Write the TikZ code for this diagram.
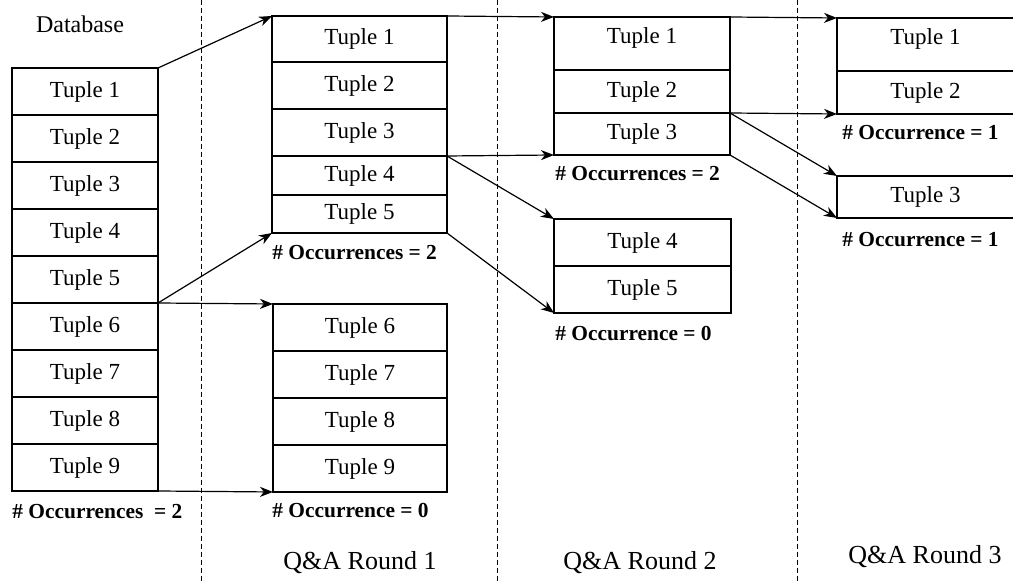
\documentclass[tikz,border=0pt]{standalone}
\usepackage{fontspec}
\setmainfont{Liberation Serif}
\usetikzlibrary{arrows.meta}

\tikzset{
  tuplebox/.style={draw, line width=0.65pt, anchor=north west, inner sep=0pt, outer sep=0pt,
    font=\fontsize{11.5}{12}\selectfont},
  highrow/.style={text height=8pt, text depth=8pt},
  occlabel/.style={anchor=west, inner sep=0pt, font=\fontsize{10.7}{12}\selectfont\bfseries},
  roundlabel/.style={inner sep=0pt, font=\fontsize{13}{14}\selectfont},
  link/.style={-{Stealth[length=6.5pt,width=5pt,inset=2pt]}, line width=0.6pt},
  sepline/.style={dash pattern=on 2.5pt off 1.5pt, line width=0.5pt}
}

\begin{document}
\begin{tikzpicture}[x=0.5pt,y=-0.5pt]
	\useasboundingbox (0,0) rectangle (1013,581);
	% round separators
	\foreach \x in {201,497,797}
		\draw[sepline] (\x,0) -- (\x,581);

	% database
	\node[roundlabel, font=\fontsize{12}{14}\selectfont] (dbname) at (80,24) {Database};
	\foreach \i in {1,...,9}
		\node[tuplebox, minimum width=73pt, minimum height=23.5pt] (db\i) at (12,{68+47*(\i-1)}) {Tuple \i};
	\node[occlabel] (dbocc) at (12,512) {\# Occurrences \ = 2};

	% round 1
	\node[tuplebox, minimum width=87.5pt, minimum height=23pt] (ra1) at (272,16) {Tuple 1};
	\node[tuplebox, minimum width=87.5pt, minimum height=23.5pt] (ra2) at (ra1.south west) {Tuple 2};
	\node[tuplebox, minimum width=87.5pt, minimum height=23.5pt] (ra3) at (ra2.south west) {Tuple 3};
	\node[tuplebox, minimum width=87.5pt, minimum height=19.5pt] (ra4) at (ra3.south west) {Tuple 4};
	\node[tuplebox, minimum width=87.5pt, minimum height=19pt] (ra5) at (ra4.south west) {Tuple 5};
	\node[occlabel] (raocc) at (272,253) {\# Occurrences = 2};

	\node[tuplebox, minimum width=87pt, minimum height=23.5pt] (rb6) at (273,304) {Tuple 6};
	\foreach \i [count=\j from 6] in {7,8,9}
		\node[tuplebox, minimum width=87pt, minimum height=23.5pt] (rb\i) at (rb\j.south west) {Tuple \i};
	\node[occlabel] (rbocc) at (272,511) {\# Occurrence = 0};

	% round 2
	\node[tuplebox, highrow, minimum width=88pt, minimum height=26.5pt] (rc1) at (554,17) {Tuple 1};
	\node[tuplebox, minimum width=88pt, minimum height=21.5pt] (rc2) at (rc1.south west) {Tuple 2};
	\node[tuplebox, minimum width=88pt, minimum height=21pt] (rc3) at (rc2.south west) {Tuple 3};
	\node[occlabel] (rcocc) at (555,174) {\# Occurrences = 2};

	\node[tuplebox, minimum width=88.5pt, minimum height=23.5pt] (rd4) at (554,219) {Tuple 4};
	\node[tuplebox, minimum width=88.5pt, minimum height=23.5pt] (rd5) at (rd4.south west) {Tuple 5};
	\node[occlabel] (rdocc) at (555,334) {\# Occurrence = 0};

	% round 3
	\node[tuplebox, highrow, minimum width=88.5pt, minimum height=26.5pt] (re1) at (837,18) {Tuple 1};
	\node[tuplebox, minimum width=88.5pt, minimum height=21.5pt] (re2) at (re1.south west) {Tuple 2};
	\node[occlabel] (reocc) at (842,133) {\# Occurrence = 1};

	\node[tuplebox, minimum width=88.5pt, minimum height=21pt] (rf3) at (837,176) {Tuple 3};
	\node[occlabel] (rfocc) at (842,240) {\# Occurrence = 1};

	% splits
	\draw[link] (db1.north east) -- (ra1.north west);
	\draw[link] (db6.north east) -- (ra5.south west);
	\draw[link] (db6.north east) -- (rb6.north west);
	\draw[link] (db9.south east) -- (rb9.south west);
	\draw[link] (ra1.north east) -- (rc1.north west);
	\draw[link] (ra3.south east) -- (rc3.south west);
	\draw[link] (ra3.south east) -- (rd4.north west);
	\draw[link] (ra5.south east) -- (rd5.south west);
	\draw[link] (rc1.north east) -- (re1.north west);
	\draw[link] (rc2.south east) -- (re2.south west);
	\draw[link] (rc2.south east) -- (rf3.north west);
	\draw[link] (rc3.south east) -- (rf3.south west);

	% round titles
	\node[roundlabel] (round1) at (360,563) {Q\&A Round 1};
	\node[roundlabel] (round2) at (640,563) {Q\&A Round 2};
	\node[roundlabel] (round3) at (925,557) {Q\&A Round 3};
\end{tikzpicture}
\end{document}
